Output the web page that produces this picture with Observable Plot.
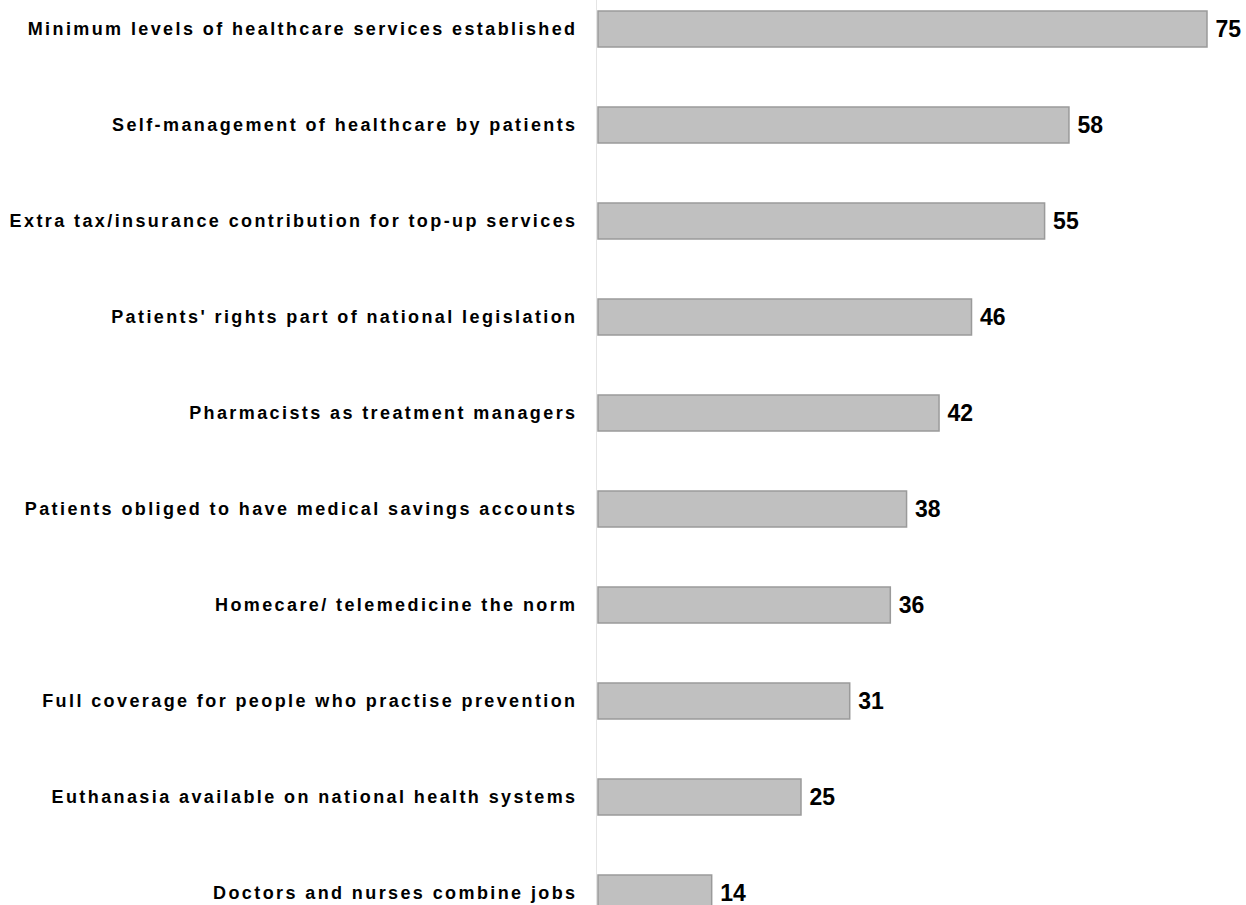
<!DOCTYPE html>
<html>
<head>
<meta charset="utf-8">
<script src="https://cdn.jsdelivr.net/npm/d3@7"></script>
<script src="https://cdn.jsdelivr.net/npm/@observablehq/plot@0.6"></script>
<style>
  html, body { margin: 0; padding: 0; background: #fff; overflow: hidden; }
  #chart svg { display: block; }
</style>
</head>
<body>
<div id="chart"></div>
<script>
const categories = [
  "Minimum levels of healthcare services established",
  "Self-management of healthcare by patients",
  "Extra tax/insurance contribution for top-up services",
  "Patients' rights part of national legislation",
  "Pharmacists as treatment managers",
  "Patients obliged to have medical savings accounts",
  "Homecare/ telemedicine the norm",
  "Full coverage for people who practise prevention",
  "Euthanasia available on national health systems",
  "Doctors and nurses combine jobs"
];
const values = [75, 58, 55, 46, 42, 38, 36, 31, 25, 14];

const data = categories.map((c, i) => ({category: c, value: values[i]}));

const chart = Plot.plot({
  width: 1246,
  height: 905,
  marginTop: 0,
  marginBottom: 0,
  marginLeft: 598,
  marginRight: 39,
  style: {fontFamily: "'Liberation Sans', Arial, sans-serif", background: "#fff"},
  x: {domain: [0, 75], range: [598, 1207], axis: null},
  y: {domain: categories, range: [11, 911], paddingInner: 0.625, paddingOuter: 0, label: null},
  marks: [
    Plot.ruleX([0], {dx: -2, stroke: "#e4e4e4", strokeWidth: 1}),
    Plot.barX(data, {x: "value", y: "category", fill: "#c0c0c0", stroke: "#9a9a9a", strokeWidth: 1.5}),
    Plot.text(data, {x: "value", y: "category", text: d => String(d.value), textAnchor: "start", dx: 8, fontSize: 23, fontWeight: "bold", fill: "#000"}),
    Plot.axisY({tickSize: 0, tickPadding: 21, fontSize: 18, fontWeight: "bold", fill: "#000", label: null})
  ]
});
d3.select(chart).selectAll('g[aria-label="y-axis tick label"] text').attr("letter-spacing", "2.4px");
document.getElementById("chart").appendChild(chart);
</script>
</body>
</html>
